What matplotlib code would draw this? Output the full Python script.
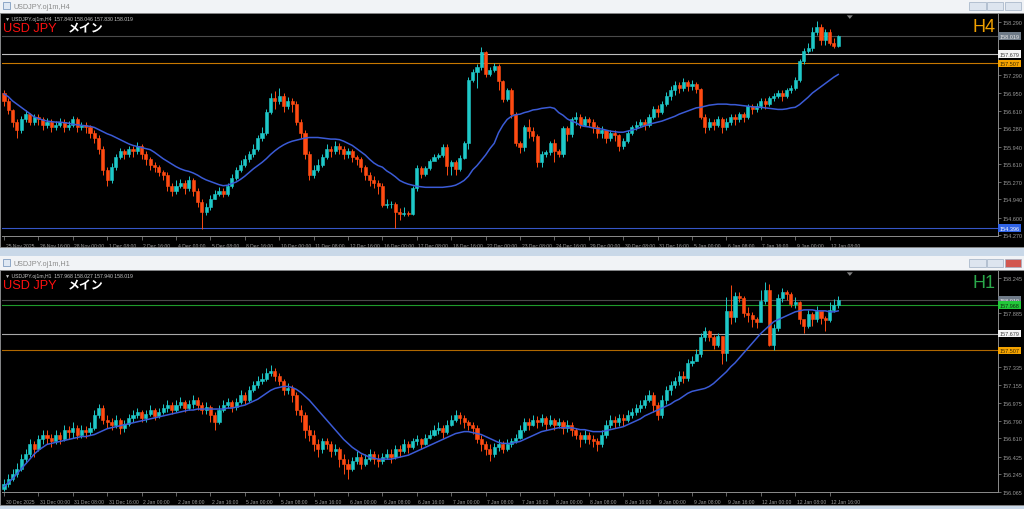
import numpy as np
import matplotlib.pyplot as plt
import matplotlib.transforms as mtransforms
from matplotlib.patches import Rectangle, Polygon

plt.rcParams['font.family'] = ['Liberation Sans', 'DejaVu Sans']

# ---------------- H4 panel data ----------------
h4_first_open = 156.95
h4_close = [
    156.80, 156.62, 156.40, 156.25, 156.45, 156.55, 156.40, 156.50, 156.45, 156.35,
    156.40, 156.30, 156.35, 156.40, 156.30, 156.35, 156.45, 156.30, 156.35, 156.30,
    156.20, 156.10, 155.90, 155.50, 155.30, 155.55, 155.75, 155.85, 155.80, 155.90,
    155.85, 155.95, 155.80, 155.70, 155.60, 155.55, 155.45, 155.40, 155.20, 155.10,
    155.20, 155.25, 155.15, 155.30, 155.10, 154.90, 154.70, 154.80, 154.95, 155.05,
    155.10, 155.05, 155.20, 155.35, 155.50, 155.60, 155.70, 155.80, 155.90, 156.10,
    156.20, 156.60, 156.85, 156.80, 156.90, 156.70, 156.80, 156.75, 156.40, 156.20,
    155.80, 155.40, 155.50, 155.60, 155.75, 155.90, 155.85, 155.95, 155.90, 155.80,
    155.85, 155.75, 155.70, 155.55, 155.40, 155.30, 155.25, 155.20, 154.84, 154.85,
    154.85, 154.70, 154.66, 154.68, 154.67, 155.15, 155.53, 155.42, 155.54, 155.66,
    155.75, 155.78, 155.94, 155.57, 155.64, 155.51, 155.73, 156.00, 157.20, 157.35,
    157.44, 157.72, 157.31, 157.38, 157.46, 157.17, 156.83, 157.00, 156.55, 156.00,
    155.94, 156.30, 156.24, 156.13, 155.64, 155.79, 155.83, 156.00, 155.85, 155.80,
    156.28, 156.17, 156.45, 156.50, 156.35, 156.45, 156.40, 156.30, 156.20, 156.25,
    156.10, 156.20, 156.15, 155.95, 156.05, 156.20, 156.30, 156.35, 156.40, 156.35,
    156.50, 156.65, 156.60, 156.75, 156.90, 157.00, 157.10, 157.05, 157.15, 157.08,
    157.12, 157.02, 156.50, 156.30, 156.40, 156.35, 156.45, 156.30, 156.40, 156.50,
    156.45, 156.55, 156.50, 156.70, 156.65, 156.70, 156.80, 156.75, 156.85, 156.90,
    156.95, 156.90, 157.00, 157.05, 157.20, 157.55, 157.75, 157.80, 158.10, 158.20,
    157.95, 158.10, 157.90, 157.84, 158.02,
]
h4_high = [
    157.00, 156.85, 156.65, 156.45, 156.52, 156.62, 156.58, 156.56, 156.55, 156.50,
    156.48, 156.45, 156.42, 156.48, 156.45, 156.42, 156.52, 156.50, 156.40, 156.40,
    156.35, 156.25, 156.15, 155.95, 155.55, 155.62, 155.80, 155.92, 155.90, 155.95,
    155.95, 156.02, 155.98, 155.85, 155.75, 155.65, 155.60, 155.50, 155.45, 155.25,
    155.30, 155.32, 155.30, 155.38, 155.35, 155.15, 154.95, 154.88, 155.02, 155.12,
    155.18, 155.15, 155.25, 155.42, 155.55, 155.68, 155.78, 155.86, 155.98, 156.15,
    156.30, 156.65, 156.95, 156.98, 157.05, 156.95, 156.88, 156.85, 156.80, 156.45,
    156.25, 155.85, 155.60, 155.70, 155.80, 155.98, 155.95, 156.05, 156.00, 155.95,
    155.92, 155.90, 155.78, 155.75, 155.60, 155.45, 155.38, 155.30, 155.25, 154.95,
    154.92, 154.90, 154.78, 154.80, 154.72, 155.20, 155.60, 155.58, 155.58, 155.70,
    155.80, 155.82, 155.98, 155.98, 155.68, 155.68, 155.78, 156.05, 157.25, 157.40,
    157.50, 157.82, 157.75, 157.45, 157.52, 157.50, 157.20, 157.05, 157.05, 156.60,
    156.05, 156.35, 156.45, 156.30, 156.18, 155.85, 155.88, 156.05, 156.08, 155.90,
    156.32, 156.32, 156.50, 156.60, 156.55, 156.52, 156.50, 156.45, 156.35, 156.32,
    156.25, 156.25, 156.25, 156.18, 156.10, 156.25, 156.35, 156.42, 156.45, 156.45,
    156.55, 156.70, 156.72, 156.80, 156.96, 157.08, 157.18, 157.15, 157.24, 157.20,
    157.20, 157.15, 157.05, 156.55, 156.48, 156.45, 156.52, 156.50, 156.48, 156.55,
    156.55, 156.60, 156.60, 156.75, 156.75, 156.76, 156.85, 156.85, 156.90, 156.95,
    157.00, 157.00, 157.05, 157.10, 157.25, 157.60, 157.80, 157.90, 158.20, 158.30,
    158.25, 158.15, 158.15, 157.98, 158.05,
]
h4_low = [
    156.70, 156.55, 156.30, 156.10, 156.20, 156.40, 156.35, 156.35, 156.35, 156.25,
    156.28, 156.22, 156.25, 156.30, 156.22, 156.25, 156.30, 156.22, 156.25, 156.20,
    156.10, 156.00, 155.80, 155.40, 155.20, 155.25, 155.50, 155.70, 155.70, 155.75,
    155.75, 155.80, 155.70, 155.60, 155.50, 155.45, 155.38, 155.30, 155.10, 155.00,
    155.05, 155.15, 155.05, 155.10, 155.00, 154.80, 154.38, 154.65, 154.75, 154.95,
    155.00, 154.98, 155.00, 155.15, 155.30, 155.45, 155.55, 155.65, 155.75, 155.85,
    156.05, 156.15, 156.55, 156.65, 156.75, 156.60, 156.65, 156.60, 156.35, 156.10,
    155.70, 155.30, 155.35, 155.45, 155.55, 155.70, 155.75, 155.80, 155.80, 155.70,
    155.72, 155.65, 155.60, 155.45, 155.30, 155.20, 155.15, 155.05, 154.80, 154.78,
    154.78, 154.40, 154.55, 154.62, 154.62, 154.65, 155.10, 155.35, 155.38, 155.50,
    155.70, 155.70, 155.75, 155.40, 155.40, 155.40, 155.48, 155.70, 155.90, 157.15,
    157.05, 157.38, 157.25, 157.28, 157.35, 157.00, 156.78, 156.80, 156.48, 155.95,
    155.82, 155.85, 156.10, 156.05, 155.55, 155.55, 155.75, 155.78, 155.65, 155.75,
    155.75, 156.05, 156.12, 156.35, 156.28, 156.32, 156.30, 156.20, 156.10, 156.10,
    156.00, 156.05, 156.05, 155.85, 155.90, 156.00, 156.15, 156.25, 156.30, 156.25,
    156.30, 156.45, 156.50, 156.55, 156.70, 156.82, 156.92, 156.95, 156.98, 156.98,
    157.00, 156.95, 156.45, 156.20, 156.25, 156.25, 156.30, 156.20, 156.25, 156.35,
    156.35, 156.40, 156.40, 156.45, 156.55, 156.60, 156.65, 156.65, 156.70, 156.80,
    156.85, 156.80, 156.85, 156.95, 157.00, 157.15, 157.50, 157.70, 157.75, 158.05,
    157.85, 157.85, 157.85, 157.80, 157.82,
]
h4_ma = [
    156.93, 156.88, 156.80, 156.74, 156.68, 156.62, 156.56, 156.50, 156.47, 156.44,
    156.42, 156.41, 156.40, 156.40, 156.39, 156.38, 156.36, 156.35, 156.34, 156.33,
    156.32, 156.30, 156.26, 156.22, 156.18, 156.15, 156.11, 156.07, 156.03, 155.99,
    155.96, 155.94, 155.92, 155.90, 155.88, 155.83, 155.77, 155.71, 155.66, 155.61,
    155.56, 155.52, 155.49, 155.47, 155.44, 155.40, 155.35, 155.31, 155.28, 155.25,
    155.22, 155.20, 155.21, 155.24, 155.27, 155.32, 155.38, 155.45, 155.52, 155.58,
    155.64, 155.71, 155.79, 155.86, 155.92, 155.97, 156.01, 156.04, 156.06, 156.08,
    156.10, 156.11, 156.11, 156.11, 156.10, 156.09, 156.08, 156.08, 156.07, 156.04,
    156.00, 155.96, 155.90, 155.84, 155.78, 155.70, 155.63, 155.58, 155.55, 155.48,
    155.43, 155.37, 155.30, 155.26, 155.23, 155.21, 155.19, 155.18, 155.17, 155.17,
    155.17, 155.17, 155.17, 155.18, 155.19, 155.21, 155.25, 155.30, 155.38, 155.50,
    155.58, 155.68, 155.78, 155.90, 156.00, 156.20, 156.34, 156.45, 156.51, 156.54,
    156.55, 156.58, 156.60, 156.63, 156.64, 156.66, 156.67, 156.68, 156.66, 156.58,
    156.53, 156.46, 156.42, 156.39, 156.34, 156.32, 156.31, 156.29, 156.28, 156.27,
    156.25, 156.23, 156.22, 156.21, 156.21, 156.23, 156.25, 156.27, 156.30, 156.33,
    156.36, 156.38, 156.40, 156.42, 156.45, 156.48, 156.51, 156.55, 156.58, 156.61,
    156.64, 156.67, 156.68, 156.70, 156.72, 156.73, 156.74, 156.74, 156.74, 156.73,
    156.73, 156.72, 156.71, 156.70, 156.69, 156.68, 156.68, 156.67, 156.66, 156.65,
    156.64, 156.64, 156.65, 156.67, 156.68, 156.73, 156.80, 156.87, 156.95, 157.01,
    157.07, 157.13, 157.19, 157.25, 157.30,
]
h4_time_labels = [
    "25 Nov 2025", "26 Nov 16:00", "28 Nov 00:00", "1 Dec 08:00", "2 Dec 16:00",
    "4 Dec 00:00", "5 Dec 08:00", "8 Dec 16:00", "10 Dec 00:00", "11 Dec 08:00",
    "12 Dec 16:00", "16 Dec 00:00", "17 Dec 08:00", "18 Dec 16:00", "22 Dec 00:00",
    "23 Dec 08:00", "24 Dec 16:00", "29 Dec 00:00", "30 Dec 08:00", "31 Dec 16:00",
    "5 Jan 00:00", "6 Jan 08:00", "7 Jan 16:00", "9 Jan 00:00", "12 Jan 08:00",
]
h4_price_ticks = [158.290, 157.290, 156.950, 156.610, 156.280,
                  155.940, 155.610, 155.270, 154.940, 154.600, 154.270]
h4_levels = [158.019, 157.679, 157.507, 154.396]

# ---------------- H1 panel data ----------------
h1_first_open = 156.10
h1_close = [
    156.15, 156.20, 156.25, 156.30, 156.40, 156.45, 156.55, 156.50, 156.60, 156.65,
    156.62, 156.58, 156.65, 156.60, 156.70, 156.68, 156.72, 156.65, 156.70, 156.68,
    156.72, 156.85, 156.92, 156.80, 156.78, 156.75, 156.80, 156.72, 156.76, 156.82,
    156.85, 156.88, 156.82, 156.86, 156.90, 156.84, 156.88, 156.92, 156.95, 156.90,
    156.95, 156.98, 156.92, 156.96, 157.00, 156.95, 156.90, 156.93, 156.85, 156.78,
    156.90, 156.95, 156.98, 156.93, 156.98, 157.05, 157.00, 157.10, 157.15, 157.20,
    157.22, 157.28, 157.30, 157.25, 157.20, 157.10, 157.12, 157.05, 156.90, 156.85,
    156.70, 156.65, 156.55, 156.50, 156.58, 156.55, 156.48, 156.50, 156.40, 156.35,
    156.30, 156.38, 156.42, 156.35, 156.40, 156.45, 156.40, 156.38, 156.42, 156.45,
    156.42, 156.50, 156.48, 156.55, 156.52, 156.58, 156.60, 156.55, 156.62, 156.65,
    156.70, 156.72, 156.68, 156.75, 156.80, 156.85, 156.82, 156.78, 156.75, 156.72,
    156.60, 156.55, 156.50, 156.45, 156.52, 156.55, 156.50, 156.55, 156.58, 156.62,
    156.70, 156.78, 156.75, 156.80, 156.78, 156.82, 156.76, 156.80, 156.75, 156.78,
    156.72, 156.75, 156.70, 156.65, 156.60, 156.65, 156.60, 156.58, 156.55, 156.65,
    156.75, 156.80, 156.78, 156.82, 156.80, 156.85, 156.88, 156.92, 156.95, 157.00,
    157.05, 156.95, 156.85, 157.00, 157.10, 157.15, 157.20, 157.25, 157.23, 157.38,
    157.40, 157.47, 157.64, 157.70, 157.64, 157.56, 157.65, 157.48, 157.91, 157.85,
    158.06, 158.04, 157.89, 157.87, 157.83, 157.80, 158.01, 158.12, 157.56, 157.74,
    158.04, 158.10, 158.08, 157.98, 158.00, 157.83, 157.76, 157.88, 157.83, 157.91,
    157.84, 157.82, 157.92, 157.97, 158.02,
]
h1_high = [
    156.20, 156.25, 156.30, 156.36, 156.45, 156.50, 156.60, 156.58, 156.65, 156.70,
    156.70, 156.66, 156.70, 156.68, 156.75, 156.74, 156.78, 156.75, 156.75, 156.74,
    156.78, 156.90, 156.96, 156.95, 156.85, 156.82, 156.85, 156.82, 156.80, 156.86,
    156.90, 156.92, 156.90, 156.90, 156.95, 156.92, 156.92, 156.96, 157.00, 156.98,
    157.00, 157.03, 157.00, 157.00, 157.05, 157.03, 156.98, 156.98, 156.95, 156.88,
    156.95, 157.00, 157.02, 157.00, 157.02, 157.10, 157.08, 157.14, 157.20, 157.25,
    157.28, 157.33, 157.36, 157.33, 157.28, 157.22, 157.18, 157.15, 157.08, 156.95,
    156.88, 156.75, 156.70, 156.60, 156.62, 156.62, 156.58, 156.55, 156.52, 156.45,
    156.40, 156.42, 156.48, 156.45, 156.45, 156.50, 156.48, 156.45, 156.46, 156.50,
    156.50, 156.54, 156.54, 156.60, 156.58, 156.62, 156.65, 156.62, 156.66, 156.70,
    156.75, 156.78, 156.75, 156.80, 156.85, 156.90, 156.88, 156.85, 156.80, 156.78,
    156.75, 156.65, 156.58, 156.55, 156.56, 156.60, 156.58, 156.60, 156.62, 156.66,
    156.75, 156.82, 156.82, 156.85, 156.84, 156.86, 156.84, 156.85, 156.82, 156.82,
    156.80, 156.80, 156.78, 156.72, 156.68, 156.70, 156.68, 156.65, 156.62, 156.70,
    156.80, 156.85, 156.84, 156.86, 156.86, 156.90, 156.92, 156.96, 157.00, 157.05,
    157.10, 157.08, 156.98, 157.05, 157.14, 157.20, 157.24, 157.30, 157.30, 157.42,
    157.45, 157.52, 157.68, 157.75, 157.72, 157.66, 157.68, 157.65, 158.05, 158.17,
    158.10, 158.10, 158.06, 157.95, 157.90, 157.85, 158.12, 158.20, 158.18, 157.78,
    158.08, 158.14, 158.12, 158.10, 158.05, 158.01, 157.82, 157.92, 157.90, 157.96,
    157.90, 157.86, 158.00, 158.03, 158.06,
]
h1_low = [
    156.08, 156.12, 156.18, 156.22, 156.28, 156.36, 156.42, 156.42, 156.48, 156.55,
    156.55, 156.52, 156.55, 156.55, 156.58, 156.60, 156.62, 156.60, 156.62, 156.62,
    156.65, 156.70, 156.82, 156.76, 156.72, 156.70, 156.72, 156.66, 156.68, 156.74,
    156.78, 156.82, 156.78, 156.78, 156.84, 156.80, 156.82, 156.86, 156.88, 156.86,
    156.88, 156.92, 156.88, 156.90, 156.92, 156.90, 156.86, 156.86, 156.78, 156.70,
    156.76, 156.88, 156.92, 156.88, 156.90, 156.96, 156.96, 156.98, 157.08, 157.12,
    157.16, 157.20, 157.25, 157.20, 157.15, 157.05, 157.06, 156.98, 156.85, 156.78,
    156.62, 156.58, 156.48, 156.42, 156.46, 156.50, 156.42, 156.44, 156.32, 156.25,
    156.20, 156.28, 156.35, 156.30, 156.33, 156.38, 156.35, 156.32, 156.35, 156.40,
    156.36, 156.40, 156.42, 156.46, 156.46, 156.50, 156.54, 156.50, 156.54, 156.60,
    156.64, 156.66, 156.62, 156.66, 156.74, 156.78, 156.76, 156.72, 156.70, 156.66,
    156.56, 156.48, 156.44, 156.38, 156.42, 156.48, 156.46, 156.48, 156.52, 156.56,
    156.60, 156.68, 156.70, 156.74, 156.72, 156.74, 156.70, 156.74, 156.70, 156.72,
    156.66, 156.68, 156.64, 156.60, 156.52, 156.56, 156.55, 156.52, 156.48, 156.52,
    156.62, 156.72, 156.72, 156.74, 156.74, 156.78, 156.82, 156.85, 156.88, 156.92,
    156.98, 156.88, 156.80, 156.82, 156.96, 157.05, 157.12, 157.15, 157.18, 157.20,
    157.35, 157.40, 157.44, 157.60, 157.60, 157.52, 157.54, 157.37, 157.40, 157.78,
    157.80, 158.00, 157.85, 157.80, 157.75, 157.74, 157.90, 157.98, 157.55, 157.51,
    157.70, 158.00, 158.02, 157.95, 157.94, 157.78, 157.68, 157.74, 157.76, 157.80,
    157.78, 157.70, 157.80, 157.90, 157.94,
]
h1_ma = [
    156.12, 156.16, 156.20, 156.25, 156.30, 156.35, 156.40, 156.45, 156.49, 156.52,
    156.55, 156.56, 156.57, 156.58, 156.59, 156.60, 156.61, 156.62, 156.63, 156.63,
    156.64, 156.65, 156.67, 156.69, 156.71, 156.72, 156.73, 156.74, 156.75, 156.76,
    156.77, 156.78, 156.79, 156.80, 156.81, 156.82, 156.83, 156.84, 156.85, 156.86,
    156.87, 156.88, 156.89, 156.90, 156.90, 156.91, 156.91, 156.91, 156.91, 156.91,
    156.91, 156.91, 156.92, 156.92, 156.93, 156.94, 156.95, 156.97, 156.99, 157.01,
    157.04, 157.07, 157.10, 157.12, 157.13, 157.14, 157.14, 157.13, 157.11, 157.08,
    157.04, 157.00, 156.95, 156.90, 156.85, 156.80, 156.75, 156.70, 156.65, 156.60,
    156.56, 156.52, 156.49, 156.46, 156.44, 156.42, 156.41, 156.40, 156.40, 156.40,
    156.40, 156.41, 156.42, 156.43, 156.44, 156.46, 156.48, 156.50, 156.52, 156.54,
    156.56, 156.58, 156.60, 156.62, 156.64, 156.66, 156.67, 156.68, 156.68, 156.67,
    156.66, 156.65, 156.63, 156.61, 156.59, 156.57, 156.56, 156.56, 156.56, 156.57,
    156.58, 156.60, 156.62, 156.64, 156.66, 156.68, 156.69, 156.70, 156.71, 156.72,
    156.72, 156.72, 156.72, 156.71, 156.70, 156.70, 156.69, 156.68, 156.68, 156.68,
    156.69, 156.70, 156.71, 156.72, 156.73, 156.75, 156.77, 156.79, 156.81, 156.84,
    156.86, 156.88, 156.90, 156.92, 156.94, 156.96, 156.99, 157.01, 157.04, 157.07,
    157.09, 157.10, 157.11, 157.12, 157.14, 157.17, 157.21, 157.25, 157.29, 157.34,
    157.38, 157.43, 157.48, 157.53, 157.58, 157.63, 157.68, 157.72, 157.76, 157.80,
    157.82, 157.84, 157.86, 157.88, 157.90, 157.91, 157.92, 157.92, 157.92, 157.91,
    157.91, 157.91, 157.90, 157.90, 157.91,
]
h1_time_labels = [
    "30 Dec 2025", "31 Dec 00:00", "31 Dec 08:00", "31 Dec 16:00", "2 Jan 00:00",
    "2 Jan 08:00", "2 Jan 16:00", "5 Jan 00:00", "5 Jan 08:00", "5 Jan 16:00",
    "6 Jan 00:00", "6 Jan 08:00", "6 Jan 16:00", "7 Jan 00:00", "7 Jan 08:00",
    "7 Jan 16:00", "8 Jan 00:00", "8 Jan 08:00", "8 Jan 16:00", "9 Jan 00:00",
    "9 Jan 08:00", "9 Jan 16:00", "12 Jan 00:00", "12 Jan 08:00", "12 Jan 16:00",
]
h1_price_ticks = [158.245, 157.885, 157.335, 157.155,
                  156.975, 156.790, 156.610, 156.425, 156.245, 156.065]
h1_levels = [158.019, 157.968, 157.679, 157.507]

BULL = '#1fc8c8'
BEAR = '#ff4b12'
MA_COLOR = '#3b5bd6'
AXIS_TXT = '#9a9a9a'
W, H = 1024, 510

fig = plt.figure(figsize=(W / 100, H / 100), dpi=100)
fig.patch.set_facecolor('#c9d8e8')


def px_rect(x0, y0, x1, y1, **kw):
    r = Rectangle((x0 / W, 1 - y1 / H), (x1 - x0) / W, (y1 - y0) / H,
                  transform=fig.transFigure, zorder=-10, **kw)
    fig.add_artist(r)


def px_text(x, y, s, **kw):
    fig.text(x / W, 1 - y / H, s, **kw)


def window_chrome(y_top, y_end, title, red_close):
    px_rect(0, y_top, W, y_top + 14, facecolor='#f1f3f6', edgecolor='none')
    px_rect(3, y_top + 3, 10, y_top + 10, facecolor='#dfe8f3', edgecolor='#7f9cc0', lw=0.6)
    px_text(13, y_top + 7.5, title, fontsize=5.2, color='#8a8a8a', va='center')
    for i, (bx0, bx1) in enumerate([(969, 986), (987, 1003), (1005, 1021)]):
        fc = '#d2574f' if (red_close and i == 2) else '#dde5ef'
        px_rect(bx0, y_top + 3, bx1, y_top + 11, facecolor=fc, edgecolor='#9fb0c4', lw=0.5)
    px_rect(0, y_top + 14, W, y_end, facecolor='black', edgecolor='#8a8a8a', lw=0.6)


window_chrome(0, 248, 'USDJPY.oj1m,H4', False)
window_chrome(257, 506, 'USDJPY.oj1m,H1', True)

level_tags = {
    'H4': [('#6f7b88', '#e8e8e8'), ('#f4f4f4', '#404040'),
           ('#f5a300', '#3a2a00'), ('#2f63e8', '#ffffff')],
    'H1': [('#6f7b88', '#e8e8e8'), ('#22c83a', '#103010'),
           ('#f4f4f4', '#404040'), ('#f5a300', '#3a2a00')],
}


def draw_panel(y_top, y_bot, first_open, close, high, low, ma, ylim,
               ticks, labels, levels, level_styles, header, tf_text, tf_color):
    ax = fig.add_axes([2 / W, 1 - y_bot / H, 996 / W, (y_bot - y_top) / H])
    ax.set_facecolor('black')
    c = np.array(close)
    o = np.concatenate([[first_open], c[:-1]])
    hi = np.array(high)
    lo = np.array(low)
    x = np.arange(len(c))
    cols = np.where(c >= o, BULL, BEAR)
    ax.vlines(x, lo, hi, colors=cols, lw=0.7, zorder=3)
    ax.bar(x, np.abs(c - o), bottom=np.minimum(o, c), width=0.72,
           color=cols, edgecolor=cols, lw=0.4, zorder=4)
    ax.plot(x, ma, color=MA_COLOR, lw=1.1, zorder=5)

    for lv, (col, lw) in zip(levels, level_styles):
        ax.axhline(lv, color=col, lw=lw, zorder=2)

    ax.set_xlim(-0.47, 231.16)
    ax.set_ylim(*ylim)
    for s in ['top', 'left']:
        ax.spines[s].set_visible(False)
    for s in ['right', 'bottom']:
        ax.spines[s].set_color('#8c8c8c')
        ax.spines[s].set_linewidth(0.7)
    ax.yaxis.tick_right()
    ax.set_yticks(ticks)
    ax.set_yticklabels([f'{t:.3f}' for t in ticks])
    ax.tick_params(axis='y', colors='#8c8c8c', labelcolor=AXIS_TXT, labelsize=4.0,
                   length=2, width=0.5, pad=1.5)
    ax.set_xticks(np.arange(0, 8 * len(labels), 8))
    ax.set_xticklabels(labels, ha='left')
    ax.tick_params(axis='x', colors='#8c8c8c', labelcolor=AXIS_TXT, labelsize=3.6,
                   length=3, width=0.5, pad=1.8)
    off = mtransforms.ScaledTranslation(1.5 / 100, 0, fig.dpi_scale_trans)
    for lab in ax.get_xticklabels():
        lab.set_transform(lab.get_transform() + off)

    # chart-shift marker
    ax.add_patch(Polygon([[196.0, 1.0 - 0.006], [197.4, 1.0 - 0.006], [196.7, 1.0 - 0.022]],
                         closed=True, transform=mtransforms.blended_transform_factory(
                             ax.transData, ax.transAxes),
                         facecolor='#808080', edgecolor='none', clip_on=False, zorder=6))

    # price tags on the right scale
    yb = mtransforms.blended_transform_factory(ax.transAxes, ax.transData)
    for lv, (fc, tc) in zip(levels, level_tags[tf_text]):
        ax.text(1.0015, lv, f'{lv:.3f}', transform=yb, fontsize=4.0, color=tc,
                va='center', ha='left', clip_on=False, zorder=10,
                bbox=dict(boxstyle='square,pad=0.25', fc=fc, ec='none'))

    px_text(5, y_top + 5, header, fontsize=3.7, color='#c8c8c8', va='center')
    px_text(3, y_top + 14, 'USD JPY', fontsize=9.2, color='#ff1010', va='center')
    px_text(68, y_top + 14, 'メイン', fontsize=8.6, color='white', va='center',
            family=['Noto Sans CJK JP', 'DejaVu Sans'], weight='bold')
    px_text(996, y_top + 12, tf_text, fontsize=13, color=tf_color, va='center', ha='right')
    return ax


draw_panel(15, 237, h4_first_open, h4_close, h4_high, h4_low, h4_ma,
           (154.251, 158.441), h4_price_ticks, h4_time_labels, h4_levels,
           [('#4a4a4a', 0.8), ('#bdbdbd', 0.8), ('#c87800', 0.8), ('#3656c8', 0.8)],
           '\u25bc USDJPY.oj1m,H4  157.840 158.046 157.830 158.019', 'H4', '#f0a000')
draw_panel(272, 493, h1_first_open, h1_close, h1_high, h1_low, h1_ma,
           (156.075, 158.316), h1_price_ticks, h1_time_labels, h1_levels,
           [('#4a4a4a', 0.8), ('#1e9a2a', 0.8), ('#a8a8a8', 0.8), ('#b06800', 0.8)],
           '\u25bc USDJPY.oj1m,H1  157.968 158.027 157.940 158.019', 'H1', '#2aa84a')

fig.savefig('out.png', dpi=100, facecolor=fig.get_facecolor())
